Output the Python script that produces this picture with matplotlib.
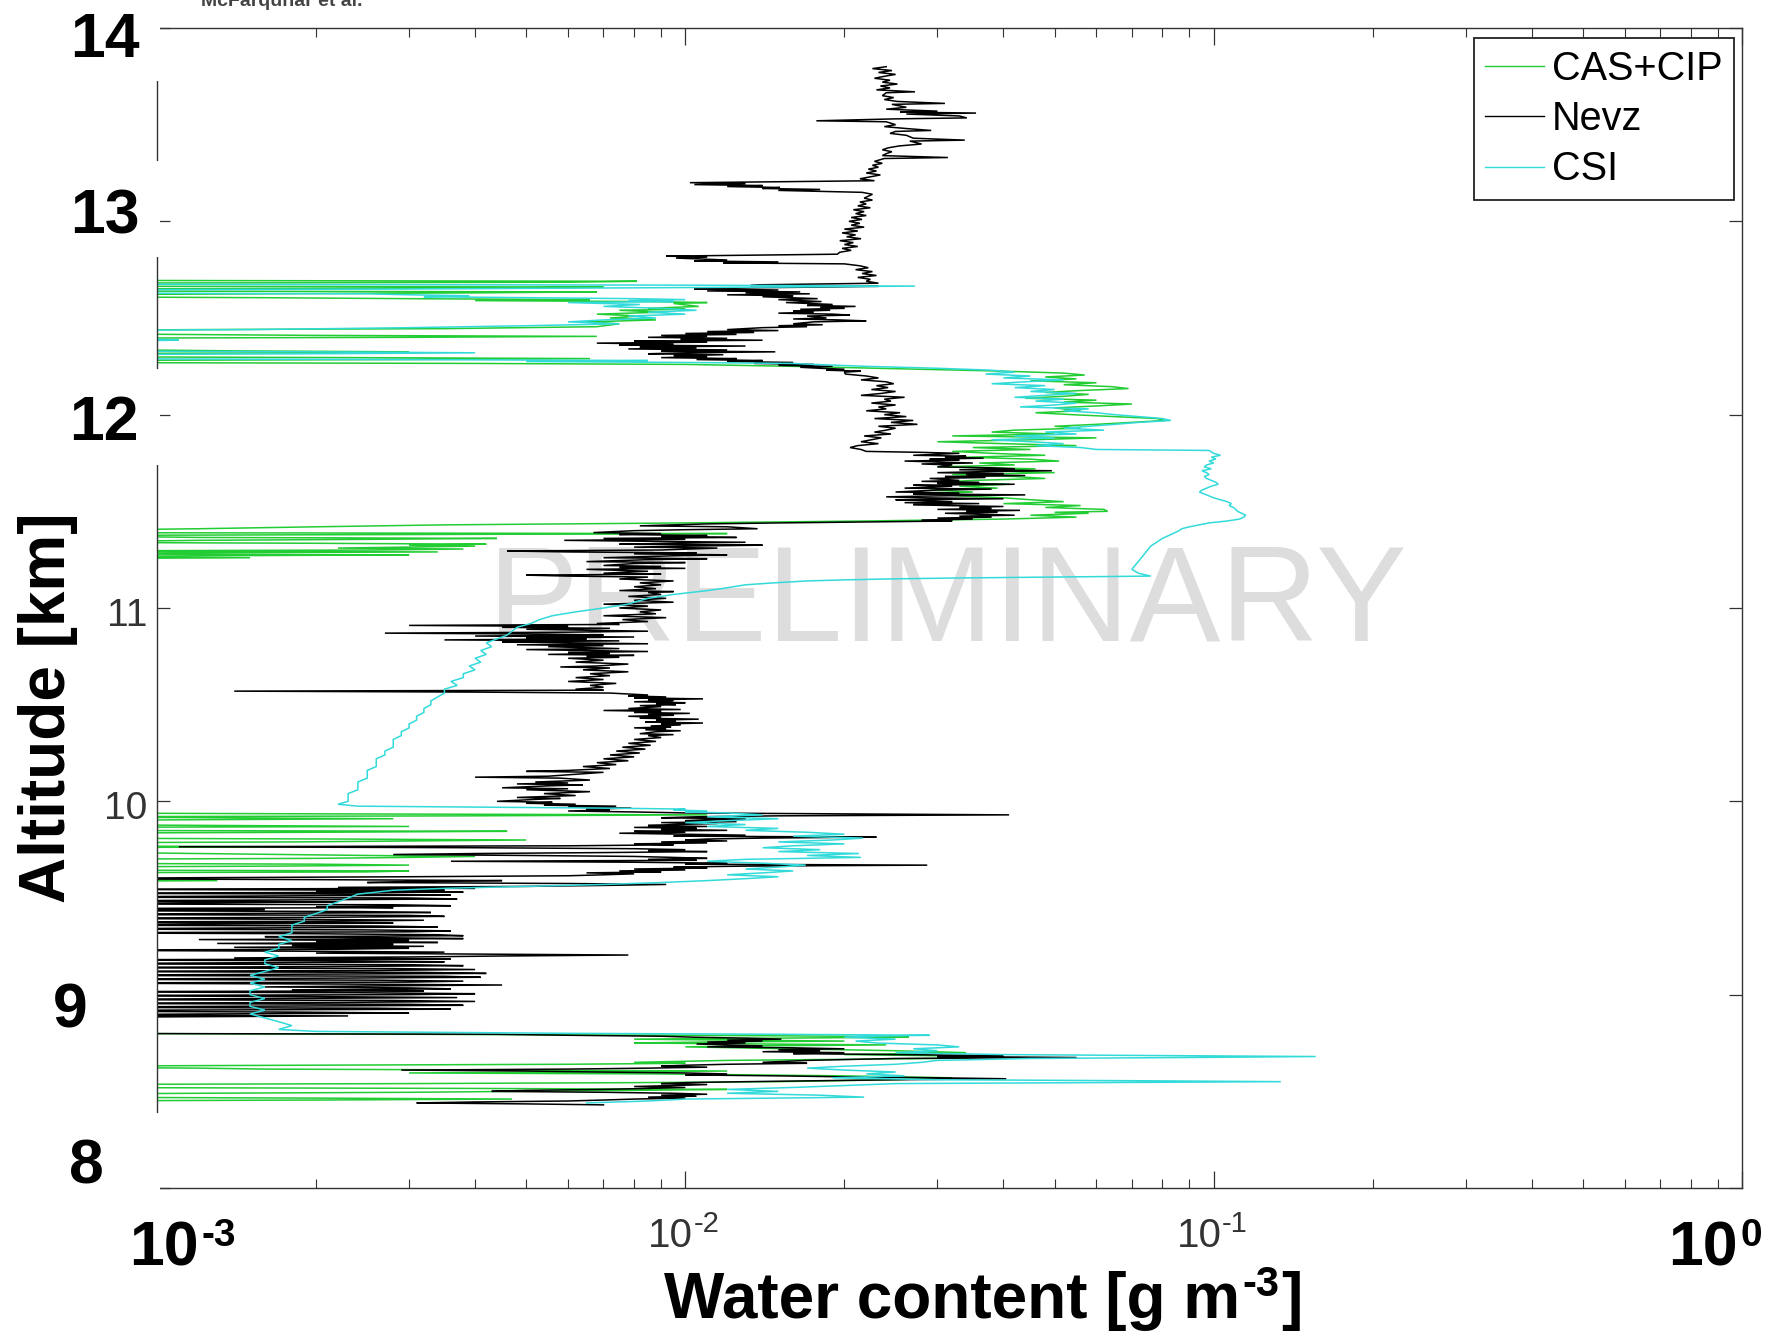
import matplotlib
matplotlib.use("Agg")
import matplotlib.pyplot as plt
from matplotlib.patches import Rectangle
from matplotlib.transforms import blended_transform_factory, ScaledTranslation

W, H, DPI = 1769, 1335, 100

# ---------------------------------------------------------------------------
# Vertical profiles: (altitude [km], water content [g m-3]).
# Values below 1e-3 sit left of the axis and are clipped away.
# ---------------------------------------------------------------------------
cas_cip = [
    (12.72, 0.0006), (12.695, 0.0006), (12.69, 0.0081), (12.685, 0.0060), (12.68, 0.0006),
    (12.665, 0.0006), (12.66, 0.0070), (12.655, 0.0045), (12.65, 0.0006), (12.64, 0.0006),
    (12.635, 0.0068), (12.63, 0.0040), (12.62, 0.0006), (12.61, 0.0006), (12.605, 0.0016),
    (12.60, 0.0030), (12.595, 0.0066), (12.59, 0.0040), (12.585, 0.0085), (12.58, 0.0110),
    (12.575, 0.0095), (12.56, 0.0106), (12.55, 0.0085), (12.545, 0.0100), (12.54, 0.0075),
    (12.53, 0.0090), (12.52, 0.0068), (12.51, 0.0082), (12.50, 0.0072), (12.49, 0.0088),
    (12.48, 0.0065), (12.47, 0.0075), (12.455, 0.0068), (12.445, 0.0035), (12.44, 0.0012),
    (12.435, 0.0006), (12.42, 0.0006), (12.41, 0.0020), (12.405, 0.0068), (12.40, 0.0030),
    (12.395, 0.0006), (12.34, 0.0006), (12.33, 0.0014), (12.325, 0.0030), (12.32, 0.0018),
    (12.315, 0.0006), (12.30, 0.0006), (12.295, 0.0024), (12.29, 0.0066), (12.285, 0.0030),
    (12.28, 0.0006), (12.27, 0.0006), (12.265, 0.0040), (12.26, 0.0100), (12.25, 0.0160),
    (12.245, 0.0192), (12.235, 0.0280), (12.225, 0.0400), (12.215, 0.0520), (12.205, 0.0570),
    (12.195, 0.0480), (12.185, 0.0550), (12.175, 0.0450), (12.165, 0.0600), (12.155, 0.0520),
    (12.145, 0.0640), (12.135, 0.0690), (12.125, 0.0560), (12.115, 0.0480), (12.105, 0.0580),
    (12.095, 0.0520), (12.085, 0.0440), (12.075, 0.0600), (12.065, 0.0520), (12.055, 0.0700),
    (12.045, 0.0600), (12.035, 0.0500), (12.02, 0.0560), (12.01, 0.0460), (12.00, 0.0540),
    (11.99, 0.0650), (11.98, 0.0780), (11.97, 0.0810), (11.96, 0.0700), (11.95, 0.0600),
    (11.94, 0.0500), (11.93, 0.0560), (11.92, 0.0420), (11.91, 0.0380), (11.90, 0.0500),
    (11.89, 0.0320), (11.88, 0.0600), (11.87, 0.0450), (11.86, 0.0300), (11.85, 0.0400),
    (11.84, 0.0550), (11.83, 0.0350), (11.82, 0.0450), (11.81, 0.0320), (11.80, 0.0380),
    (11.79, 0.0480), (11.78, 0.0340), (11.77, 0.0450), (11.76, 0.0510), (11.75, 0.0360),
    (11.74, 0.0420), (11.73, 0.0300), (11.72, 0.0460), (11.71, 0.0380), (11.70, 0.0500),
    (11.69, 0.0320), (11.68, 0.0420), (11.67, 0.0480), (11.66, 0.0350), (11.65, 0.0300),
    (11.64, 0.0410), (11.63, 0.0330), (11.62, 0.0390), (11.61, 0.0290), (11.60, 0.0350),
    (11.59, 0.0300), (11.58, 0.0330), (11.57, 0.0400), (11.56, 0.0450), (11.55, 0.0520),
    (11.54, 0.0400), (11.53, 0.0560), (11.52, 0.0480), (11.51, 0.0620), (11.50, 0.0630),
    (11.495, 0.0500), (11.49, 0.0580), (11.48, 0.0450), (11.47, 0.0550), (11.46, 0.0400),
    (11.455, 0.0300), (11.45, 0.0220), (11.445, 0.0150), (11.44, 0.0100), (11.435, 0.0060),
    (11.43, 0.0035), (11.42, 0.0020), (11.41, 0.0012), (11.40, 0.0006), (11.39, 0.0006),
    (11.385, 0.0120), (11.38, 0.0030), (11.375, 0.0006), (11.365, 0.0012), (11.36, 0.0044),
    (11.355, 0.0025), (11.35, 0.0012), (11.34, 0.0006), (11.335, 0.0019), (11.33, 0.0042),
    (11.325, 0.0030), (11.32, 0.0040), (11.31, 0.0022), (11.305, 0.0038), (11.30, 0.0026),
    (11.295, 0.0006), (11.29, 0.0034), (11.285, 0.0010), (11.28, 0.0006), (11.275, 0.0030),
    (11.27, 0.0012), (11.265, 0.0006), (11.26, 0.0015), (11.255, 0.0006),
    (9.97, 0.0006), (9.94, 0.0006), (9.935, 0.0022), (9.93, 0.0110), (9.925, 0.0040),
    (9.92, 0.0006), (9.91, 0.0028), (9.905, 0.0012), (9.90, 0.0006), (9.88, 0.0006),
    (9.87, 0.0030), (9.865, 0.0006), (9.85, 0.0006), (9.845, 0.0046), (9.84, 0.0020),
    (9.835, 0.0006), (9.81, 0.0006), (9.805, 0.0022), (9.80, 0.0050), (9.795, 0.0030),
    (9.79, 0.0018), (9.785, 0.0006), (9.77, 0.0006), (9.765, 0.0020), (9.76, 0.0006),
    (9.74, 0.0006), (9.73, 0.0012), (9.72, 0.0025), (9.715, 0.0040), (9.71, 0.0030),
    (9.705, 0.0020), (9.70, 0.0006), (9.68, 0.0006), (9.675, 0.0020), (9.67, 0.0030),
    (9.665, 0.0017), (9.66, 0.0006), (9.645, 0.0006), (9.64, 0.0030), (9.635, 0.0025),
    (9.63, 0.0006), (9.60, 0.0006), (9.59, 0.0013), (9.585, 0.0006),
    (8.80, 0.0006), (8.795, 0.0030), (8.79, 0.0100), (8.785, 0.0200), (8.78, 0.0265),
    (8.775, 0.0150), (8.77, 0.0080), (8.765, 0.0120), (8.76, 0.0200), (8.755, 0.0110),
    (8.75, 0.0080), (8.745, 0.0140), (8.74, 0.0240), (8.735, 0.0130), (8.73, 0.0100),
    (8.72, 0.0160), (8.71, 0.0250), (8.70, 0.0340), (8.69, 0.0200), (8.68, 0.0400),
    (8.67, 0.0300), (8.66, 0.0120), (8.65, 0.0080), (8.645, 0.0100), (8.64, 0.0060),
    (8.635, 0.0020), (8.63, 0.0006), (8.625, 0.0006), (8.62, 0.0012), (8.615, 0.0016),
    (8.61, 0.0050), (8.605, 0.0120), (8.60, 0.0060), (8.595, 0.0030), (8.59, 0.0090),
    (8.58, 0.0200), (8.57, 0.0320), (8.56, 0.0250), (8.55, 0.0150), (8.545, 0.0080),
    (8.54, 0.0030), (8.535, 0.0006), (8.52, 0.0006), (8.515, 0.0040), (8.51, 0.0120),
    (8.505, 0.0080), (8.50, 0.0050), (8.495, 0.0030), (8.49, 0.0012), (8.485, 0.0006),
    (8.47, 0.0006), (8.465, 0.0020), (8.46, 0.0047), (8.455, 0.0020), (8.45, 0.0006),
]

nevz = [
    (13.80, 0.0240), (13.79, 0.0226), (13.78, 0.0246), (13.77, 0.0232), (13.76, 0.0250),
    (13.75, 0.0238), (13.74, 0.0228), (13.73, 0.0244), (13.72, 0.0236), (13.71, 0.0252),
    (13.70, 0.0234), (13.69, 0.0244), (13.68, 0.0230), (13.67, 0.0272), (13.665, 0.0240),
    (13.65, 0.0236), (13.64, 0.0248), (13.63, 0.0238), (13.62, 0.0252), (13.61, 0.0310),
    (13.605, 0.0246), (13.59, 0.0262), (13.58, 0.0240), (13.57, 0.0300), (13.565, 0.0255),
    (13.56, 0.0355), (13.555, 0.0262), (13.545, 0.0330), (13.535, 0.0341), (13.53, 0.0250),
    (13.52, 0.0177), (13.515, 0.0240), (13.50, 0.0250), (13.49, 0.0238), (13.48, 0.0262),
    (13.47, 0.0292), (13.465, 0.0250), (13.455, 0.0244), (13.445, 0.0262), (13.43, 0.0270),
    (13.42, 0.0338), (13.415, 0.0266), (13.40, 0.0280), (13.39, 0.0254), (13.38, 0.0242),
    (13.37, 0.0236), (13.36, 0.0246), (13.35, 0.0240), (13.34, 0.0236), (13.33, 0.0314),
    (13.325, 0.0238), (13.31, 0.0228), (13.30, 0.0236), (13.29, 0.0226), (13.28, 0.0232),
    (13.27, 0.0222), (13.26, 0.0230), (13.25, 0.0220), (13.24, 0.0234), (13.23, 0.0224),
    (13.22, 0.0214), (13.21, 0.0228), (13.20, 0.0102), (13.195, 0.0130), (13.19, 0.0104),
    (13.185, 0.0140), (13.18, 0.0120), (13.175, 0.0151), (13.17, 0.0140), (13.165, 0.0180),
    (13.16, 0.0150), (13.15, 0.0216), (13.14, 0.0226), (13.13, 0.0222), (13.12, 0.0218),
    (13.11, 0.0226), (13.10, 0.0214), (13.09, 0.0220), (13.08, 0.0212), (13.07, 0.0224),
    (13.06, 0.0208), (13.05, 0.0218), (13.04, 0.0210), (13.03, 0.0220), (13.02, 0.0206),
    (13.01, 0.0216), (13.00, 0.0204), (12.99, 0.0214), (12.98, 0.0206), (12.97, 0.0218),
    (12.96, 0.0200), (12.95, 0.0212), (12.94, 0.0198), (12.93, 0.0210), (12.92, 0.0202),
    (12.91, 0.0215), (12.90, 0.0196), (12.89, 0.0208), (12.88, 0.0200), (12.87, 0.0212),
    (12.86, 0.0198), (12.85, 0.0206), (12.84, 0.0196), (12.83, 0.0194), (12.82, 0.0092),
    (12.815, 0.0110), (12.81, 0.0096), (12.80, 0.0120), (12.795, 0.0104), (12.79, 0.0150),
    (12.785, 0.0118), (12.78, 0.0200), (12.77, 0.0214), (12.76, 0.0222), (12.75, 0.0210),
    (12.74, 0.0226), (12.73, 0.0216), (12.72, 0.0230), (12.71, 0.0212), (12.70, 0.0224),
    (12.69, 0.0220), (12.68, 0.0232), (12.672, 0.0140), (12.668, 0.0133), (12.664, 0.0232),
    (12.66, 0.0180), (12.655, 0.0120), (12.65, 0.0104), (12.645, 0.0150), (12.64, 0.0110),
    (12.635, 0.0165), (12.63, 0.0130), (12.625, 0.0172), (12.62, 0.0120), (12.615, 0.0160),
    (12.61, 0.0140), (12.60, 0.0178), (12.595, 0.0150), (12.59, 0.0165), (12.585, 0.0181),
    (12.58, 0.0155), (12.57, 0.0190), (12.565, 0.0170), (12.56, 0.0210), (12.555, 0.0180),
    (12.55, 0.0200), (12.545, 0.0165), (12.54, 0.0188), (12.535, 0.0160), (12.53, 0.0175),
    (12.525, 0.0150), (12.52, 0.0190), (12.515, 0.0205), (12.51, 0.0170), (12.50, 0.0185),
    (12.495, 0.0160), (12.49, 0.0195), (12.485, 0.0220), (12.48, 0.0175), (12.47, 0.0160),
    (12.465, 0.0182), (12.46, 0.0150), (12.455, 0.0170), (12.45, 0.0140), (12.44, 0.0120),
    (12.435, 0.0150), (12.43, 0.0110), (12.425, 0.0135), (12.42, 0.0100), (12.415, 0.0125),
    (12.41, 0.0090), (12.405, 0.0110), (12.40, 0.0085), (12.395, 0.0120), (12.39, 0.0098),
    (12.385, 0.0140), (12.38, 0.0080), (12.375, 0.0110), (12.37, 0.0068), (12.365, 0.0095),
    (12.36, 0.0075), (12.355, 0.0130), (12.35, 0.0082), (12.345, 0.0105), (12.34, 0.0078),
    (12.335, 0.0120), (12.33, 0.0090), (12.325, 0.0148), (12.32, 0.0100), (12.315, 0.0085),
    (12.31, 0.0118), (12.305, 0.0095), (12.30, 0.0110), (12.295, 0.0090), (12.29, 0.0125),
    (12.285, 0.0105), (12.28, 0.0140), (12.275, 0.0120), (12.27, 0.0160), (12.265, 0.0135),
    (12.26, 0.0175), (12.255, 0.0150), (12.25, 0.0190), (12.245, 0.0165), (12.24, 0.0180),
    (12.235, 0.0200), (12.23, 0.0185), (12.225, 0.0215), (12.22, 0.0200), (12.21, 0.0201),
    (12.20, 0.0220), (12.19, 0.0232), (12.18, 0.0215), (12.17, 0.0240), (12.16, 0.0248),
    (12.15, 0.0230), (12.14, 0.0242), (12.13, 0.0225), (12.12, 0.0250), (12.11, 0.0235),
    (12.10, 0.0215), (12.09, 0.0260), (12.08, 0.0238), (12.07, 0.0245), (12.06, 0.0225),
    (12.05, 0.0250), (12.04, 0.0232), (12.03, 0.0240), (12.02, 0.0220), (12.01, 0.0255),
    (12.00, 0.0238), (11.99, 0.0262), (11.98, 0.0228), (11.97, 0.0270), (11.96, 0.0245),
    (11.95, 0.0275), (11.94, 0.0232), (11.93, 0.0250), (11.92, 0.0240), (11.91, 0.0228),
    (11.90, 0.0245), (11.89, 0.0218), (11.88, 0.0235), (11.87, 0.0225), (11.86, 0.0215),
    (11.85, 0.0232), (11.84, 0.0212), (11.83, 0.0205), (11.82, 0.0215), (11.81, 0.0220),
    (11.805, 0.0280), (11.80, 0.0330), (11.795, 0.0300), (11.79, 0.0270), (11.785, 0.0340),
    (11.78, 0.0310), (11.775, 0.0367), (11.77, 0.0290), (11.765, 0.0330), (11.76, 0.0260),
    (11.755, 0.0300), (11.75, 0.0350), (11.745, 0.0280), (11.74, 0.0320), (11.73, 0.0300),
    (11.725, 0.0380), (11.72, 0.0420), (11.715, 0.0330), (11.71, 0.0494), (11.705, 0.0360),
    (11.70, 0.0300), (11.695, 0.0400), (11.69, 0.0340), (11.685, 0.0440), (11.68, 0.0310),
    (11.675, 0.0370), (11.67, 0.0290), (11.66, 0.0330), (11.655, 0.0280), (11.65, 0.0360),
    (11.645, 0.0300), (11.64, 0.0420), (11.635, 0.0270), (11.63, 0.0320), (11.62, 0.0260),
    (11.615, 0.0380), (11.61, 0.0300), (11.60, 0.0250), (11.595, 0.0330), (11.59, 0.0270),
    (11.585, 0.0440), (11.58, 0.0300), (11.575, 0.0240), (11.57, 0.0280), (11.565, 0.0400),
    (11.56, 0.0250), (11.555, 0.0290), (11.55, 0.0320), (11.545, 0.0260), (11.54, 0.0360),
    (11.535, 0.0270), (11.53, 0.0310), (11.525, 0.0400), (11.52, 0.0330), (11.515, 0.0380),
    (11.51, 0.0300), (11.505, 0.0430), (11.50, 0.0340), (11.495, 0.0390), (11.49, 0.0310),
    (11.485, 0.0360), (11.48, 0.0420), (11.475, 0.0330), (11.47, 0.0380), (11.465, 0.0300),
    (11.46, 0.0350), (11.455, 0.0280), (11.45, 0.0320), (11.445, 0.0220), (11.44, 0.0150),
    (11.435, 0.0110), (11.43, 0.0095), (11.425, 0.0082), (11.42, 0.0120), (11.41, 0.0137),
    (11.405, 0.0100), (11.40, 0.0080), (11.39, 0.0067), (11.385, 0.0090), (11.38, 0.0075),
    (11.375, 0.0110), (11.37, 0.0090), (11.365, 0.0125), (11.36, 0.0070), (11.355, 0.0100),
    (11.35, 0.0059), (11.345, 0.0085), (11.34, 0.0130), (11.335, 0.0095), (11.33, 0.0075),
    (11.325, 0.0140), (11.32, 0.0100), (11.315, 0.0080), (11.31, 0.0115), (11.30, 0.0090),
    (11.295, 0.0046), (11.29, 0.0060), (11.285, 0.0105), (11.28, 0.0080), (11.275, 0.0120),
    (11.27, 0.0095), (11.26, 0.0070), (11.255, 0.0110), (11.25, 0.0085), (11.24, 0.0065),
    (11.235, 0.0100), (11.23, 0.0080), (11.22, 0.0070), (11.215, 0.0090), (11.21, 0.0075),
    (11.205, 0.0100), (11.20, 0.0065), (11.19, 0.0085), (11.18, 0.0070), (11.175, 0.0090),
    (11.17, 0.0050), (11.165, 0.0060), (11.16, 0.0085), (11.15, 0.0075), (11.14, 0.0095),
    (11.13, 0.0082), (11.12, 0.0090), (11.11, 0.0080), (11.10, 0.0088), (11.09, 0.0075),
    (11.085, 0.0095), (11.08, 0.0085), (11.07, 0.0090), (11.06, 0.0078), (11.05, 0.0092),
    (11.04, 0.0080), (11.03, 0.0095), (11.02, 0.0070), (11.01, 0.0085), (11.00, 0.0075),
    (10.99, 0.0090), (10.98, 0.0082), (10.97, 0.0088), (10.96, 0.0070), (10.95, 0.0092),
    (10.94, 0.0076), (10.93, 0.0085), (10.92, 0.0068), (10.915, 0.0075), (10.91, 0.0030),
    (10.905, 0.0060), (10.90, 0.0045), (10.895, 0.0072), (10.89, 0.0050), (10.885, 0.0065),
    (10.88, 0.0085), (10.875, 0.0060), (10.87, 0.0027), (10.865, 0.0055), (10.86, 0.0070),
    (10.855, 0.0040), (10.85, 0.0080), (10.845, 0.0050), (10.84, 0.0065), (10.835, 0.0035),
    (10.83, 0.0075), (10.825, 0.0045), (10.82, 0.0060), (10.815, 0.0085), (10.81, 0.0048),
    (10.805, 0.0070), (10.80, 0.0055), (10.79, 0.0075), (10.785, 0.0050), (10.78, 0.0065),
    (10.775, 0.0085), (10.77, 0.0060), (10.765, 0.0072), (10.76, 0.0055), (10.755, 0.0080),
    (10.75, 0.0065), (10.745, 0.0075), (10.74, 0.0060), (10.73, 0.0070), (10.72, 0.0062),
    (10.71, 0.0078), (10.70, 0.0068), (10.695, 0.0058), (10.69, 0.0072), (10.68, 0.0064),
    (10.67, 0.0078), (10.66, 0.0066), (10.65, 0.0072), (10.64, 0.0062), (10.63, 0.0070),
    (10.62, 0.0060), (10.61, 0.0074), (10.60, 0.0066), (10.59, 0.0070), (10.58, 0.0062),
    (10.575, 0.0070), (10.57, 0.0014), (10.565, 0.0040), (10.56, 0.0072), (10.55, 0.0085),
    (10.545, 0.0078), (10.54, 0.0092), (10.535, 0.0080), (10.53, 0.0108), (10.525, 0.0085),
    (10.52, 0.0095), (10.515, 0.0080), (10.51, 0.0100), (10.505, 0.0088), (10.50, 0.0096),
    (10.495, 0.0082), (10.49, 0.0090), (10.48, 0.0078), (10.475, 0.0098), (10.47, 0.0070),
    (10.465, 0.0090), (10.46, 0.0080), (10.455, 0.0102), (10.45, 0.0085), (10.445, 0.0095),
    (10.44, 0.0078), (10.435, 0.0090), (10.43, 0.0082), (10.425, 0.0106), (10.42, 0.0088),
    (10.415, 0.0096), (10.41, 0.0084), (10.405, 0.0108), (10.40, 0.0090), (10.395, 0.0098),
    (10.39, 0.0086), (10.385, 0.0094), (10.38, 0.0080), (10.375, 0.0092), (10.37, 0.0084),
    (10.365, 0.0098), (10.36, 0.0088), (10.35, 0.0082), (10.345, 0.0095), (10.34, 0.0085),
    (10.33, 0.0090), (10.32, 0.0080), (10.31, 0.0088), (10.30, 0.0078), (10.29, 0.0086),
    (10.28, 0.0076), (10.27, 0.0084), (10.26, 0.0074), (10.25, 0.0082), (10.24, 0.0072),
    (10.23, 0.0080), (10.22, 0.0070), (10.21, 0.0078), (10.20, 0.0068), (10.19, 0.0074),
    (10.18, 0.0064), (10.17, 0.0072), (10.16, 0.0060), (10.155, 0.0050), (10.15, 0.0070),
    (10.14, 0.0062), (10.13, 0.0055), (10.125, 0.0040), (10.12, 0.0058), (10.11, 0.0066),
    (10.10, 0.0052), (10.095, 0.0060), (10.09, 0.0048), (10.085, 0.0064), (10.08, 0.0055),
    (10.07, 0.0045), (10.065, 0.0060), (10.06, 0.0050), (10.05, 0.0066), (10.04, 0.0054),
    (10.03, 0.0062), (10.02, 0.0048), (10.015, 0.0058), (10.01, 0.0052), (10.00, 0.0044),
    (9.995, 0.0056), (9.99, 0.0050), (9.985, 0.0062), (9.98, 0.0054), (9.975, 0.0074),
    (9.97, 0.0060), (9.965, 0.0079), (9.96, 0.0065), (9.955, 0.0072), (9.95, 0.0060),
    (9.945, 0.0080), (9.94, 0.0100), (9.935, 0.0200), (9.93, 0.0410), (9.925, 0.0150),
    (9.92, 0.0105), (9.915, 0.0090), (9.91, 0.0130), (9.905, 0.0110), (9.90, 0.0100),
    (9.895, 0.0125), (9.89, 0.0090), (9.885, 0.0115), (9.88, 0.0095), (9.875, 0.0085),
    (9.87, 0.0110), (9.865, 0.0080), (9.86, 0.0105), (9.855, 0.0090), (9.85, 0.0120),
    (9.845, 0.0080), (9.84, 0.0100), (9.835, 0.0075), (9.83, 0.0100), (9.825, 0.0130),
    (9.82, 0.0095), (9.815, 0.0230), (9.81, 0.0140), (9.805, 0.0110), (9.80, 0.0100),
    (9.795, 0.0120), (9.79, 0.0090), (9.785, 0.0110), (9.78, 0.0080), (9.775, 0.0095),
    (9.77, 0.0060), (9.765, 0.0011), (9.76, 0.0040), (9.755, 0.0080), (9.75, 0.0100),
    (9.745, 0.0085), (9.74, 0.0110), (9.735, 0.0070), (9.73, 0.0040), (9.725, 0.0028),
    (9.72, 0.0050), (9.715, 0.0080), (9.71, 0.0095), (9.705, 0.0110), (9.70, 0.0085),
    (9.695, 0.0105), (9.69, 0.0036), (9.685, 0.0080), (9.68, 0.0120), (9.675, 0.0100),
    (9.67, 0.0287), (9.665, 0.0130), (9.66, 0.0095), (9.655, 0.0110), (9.65, 0.0080),
    (9.645, 0.0100), (9.64, 0.0075), (9.635, 0.0090), (9.63, 0.0065), (9.625, 0.0080),
    (9.62, 0.0070), (9.615, 0.0060), (9.61, 0.0030), (9.605, 0.0012), (9.60, 0.0006),
    (9.595, 0.0020), (9.59, 0.0045), (9.585, 0.0030), (9.58, 0.0025), (9.575, 0.0060),
    (9.57, 0.0092), (9.565, 0.0070), (9.56, 0.0050), (9.555, 0.0022), (9.55, 0.0040),
    (9.545, 0.0006), (9.54, 0.0035), (9.535, 0.0020), (9.53, 0.0038), (9.525, 0.0006),
    (9.52, 0.0025), (9.515, 0.0036), (9.51, 0.0015), (9.505, 0.0006), (9.50, 0.0030),
    (9.495, 0.0037), (9.49, 0.0018), (9.485, 0.0006), (9.48, 0.0022), (9.475, 0.0012),
    (9.47, 0.0006), (9.465, 0.0028), (9.46, 0.0036), (9.455, 0.0020), (9.45, 0.0028),
    (9.445, 0.0006), (9.44, 0.0016), (9.435, 0.0006), (9.43, 0.0024), (9.425, 0.0033),
    (9.42, 0.0014), (9.415, 0.0006), (9.41, 0.0030), (9.405, 0.0035), (9.40, 0.0020),
    (9.395, 0.0006), (9.39, 0.0018), (9.385, 0.0032), (9.38, 0.0022), (9.375, 0.0006),
    (9.37, 0.0028), (9.365, 0.0012), (9.36, 0.0006), (9.355, 0.0026), (9.35, 0.0034),
    (9.345, 0.0015), (9.34, 0.0006), (9.335, 0.0025), (9.33, 0.0036), (9.325, 0.0030),
    (9.32, 0.0006), (9.315, 0.0020), (9.31, 0.0034), (9.305, 0.0038), (9.30, 0.0016),
    (9.295, 0.0026), (9.29, 0.0038), (9.285, 0.0012), (9.28, 0.0030), (9.275, 0.0020),
    (9.27, 0.0034), (9.265, 0.0013), (9.26, 0.0028), (9.255, 0.0018), (9.25, 0.0032),
    (9.245, 0.0014), (9.24, 0.0030), (9.235, 0.0022), (9.23, 0.0006), (9.225, 0.0018),
    (9.22, 0.0035), (9.215, 0.0020), (9.21, 0.0040), (9.205, 0.0078), (9.20, 0.0045),
    (9.195, 0.0030), (9.19, 0.0014), (9.185, 0.0036), (9.18, 0.0006), (9.175, 0.0024),
    (9.17, 0.0035), (9.165, 0.0015), (9.16, 0.0006), (9.155, 0.0030), (9.15, 0.0038),
    (9.145, 0.0020), (9.14, 0.0006), (9.135, 0.0028), (9.13, 0.0040), (9.125, 0.0025),
    (9.12, 0.0006), (9.115, 0.0032), (9.11, 0.0042), (9.105, 0.0015), (9.10, 0.0006),
    (9.095, 0.0035), (9.09, 0.0041), (9.085, 0.0020), (9.08, 0.0006), (9.075, 0.0026),
    (9.07, 0.0038), (9.065, 0.0030), (9.06, 0.0006), (9.055, 0.0022), (9.05, 0.0045),
    (9.045, 0.0025), (9.04, 0.0016), (9.035, 0.0030), (9.03, 0.0036), (9.025, 0.0018),
    (9.02, 0.0032), (9.015, 0.0006), (9.01, 0.0024), (9.005, 0.0040), (9.00, 0.0030),
    (8.995, 0.0006), (8.99, 0.0020), (8.985, 0.0037), (8.98, 0.0016), (8.975, 0.0006),
    (8.97, 0.0028), (8.965, 0.0040), (8.96, 0.0022), (8.955, 0.0006), (8.95, 0.0030),
    (8.945, 0.0038), (8.94, 0.0014), (8.935, 0.0006), (8.93, 0.0026), (8.925, 0.0036),
    (8.92, 0.0010), (8.915, 0.0006), (8.91, 0.0018), (8.905, 0.0030), (8.90, 0.0012),
    (8.895, 0.0006), (8.89, 0.0023), (8.885, 0.0010), (8.88, 0.0006), (8.80, 0.0006),
    (8.795, 0.0044), (8.79, 0.0060), (8.785, 0.0090), (8.78, 0.0104), (8.775, 0.0130),
    (8.77, 0.0152), (8.765, 0.0120), (8.76, 0.0140), (8.755, 0.0110), (8.75, 0.0130),
    (8.745, 0.0105), (8.74, 0.0120), (8.735, 0.0140), (8.73, 0.0110), (8.725, 0.0160),
    (8.72, 0.0200), (8.715, 0.0150), (8.71, 0.0180), (8.705, 0.0140), (8.70, 0.0200),
    (8.695, 0.0160), (8.69, 0.0260), (8.685, 0.0400), (8.68, 0.0300), (8.675, 0.0550),
    (8.67, 0.0250), (8.66, 0.0170), (8.65, 0.0140), (8.645, 0.0170), (8.64, 0.0120),
    (8.635, 0.0100), (8.63, 0.0090), (8.625, 0.0110), (8.62, 0.0085), (8.615, 0.0060),
    (8.61, 0.0029), (8.605, 0.0050), (8.60, 0.0068), (8.595, 0.0100), (8.59, 0.0120),
    (8.585, 0.0100), (8.58, 0.0150), (8.575, 0.0200), (8.57, 0.0300), (8.565, 0.0405),
    (8.56, 0.0250), (8.555, 0.0180), (8.55, 0.0130), (8.545, 0.0100), (8.54, 0.0090),
    (8.535, 0.0110), (8.53, 0.0095), (8.525, 0.0080), (8.52, 0.0100), (8.515, 0.0085),
    (8.51, 0.0070), (8.505, 0.0050), (8.50, 0.0043), (8.495, 0.0070), (8.49, 0.0095),
    (8.485, 0.0110), (8.48, 0.0090), (8.475, 0.0105), (8.47, 0.0085), (8.465, 0.0100),
    (8.46, 0.0080), (8.455, 0.0070), (8.45, 0.0060), (8.445, 0.0040), (8.44, 0.0031),
    (8.435, 0.0050), (8.43, 0.0070),
]

csi = [
    (12.70, 0.0006), (12.675, 0.0006), (12.67, 0.0100), (12.665, 0.0272), (12.66, 0.0150),
    (12.655, 0.0070), (12.65, 0.0030), (12.645, 0.0006), (12.63, 0.0006), (12.625, 0.0025),
    (12.62, 0.0030), (12.615, 0.0039), (12.61, 0.0032), (12.605, 0.0050), (12.60, 0.0080),
    (12.595, 0.0100), (12.59, 0.0078), (12.585, 0.0095), (12.58, 0.0060), (12.57, 0.0082),
    (12.56, 0.0070), (12.55, 0.0090), (12.54, 0.0105), (12.53, 0.0085), (12.52, 0.0100),
    (12.51, 0.0078), (12.50, 0.0088), (12.49, 0.0070), (12.48, 0.0060), (12.47, 0.0075),
    (12.46, 0.0050), (12.45, 0.0030), (12.44, 0.0015), (12.435, 0.0006), (12.40, 0.0006),
    (12.39, 0.0010), (12.385, 0.0011), (12.38, 0.0006), (12.33, 0.0006), (12.325, 0.0020),
    (12.32, 0.0040), (12.315, 0.0020), (12.31, 0.0006), (12.29, 0.0006), (12.285, 0.0030),
    (12.28, 0.0085), (12.275, 0.0050), (12.27, 0.0100), (12.265, 0.0160), (12.26, 0.0175),
    (12.25, 0.0220), (12.24, 0.0300), (12.23, 0.0380), (12.22, 0.0420), (12.21, 0.0370),
    (12.20, 0.0450), (12.19, 0.0400), (12.18, 0.0520), (12.17, 0.0440), (12.16, 0.0380),
    (12.15, 0.0480), (12.14, 0.0420), (12.13, 0.0500), (12.12, 0.0450), (12.11, 0.0550),
    (12.10, 0.0480), (12.09, 0.0420), (12.08, 0.0520), (12.07, 0.0460), (12.06, 0.0550),
    (12.05, 0.0500), (12.04, 0.0430), (12.03, 0.0580), (12.02, 0.0520), (12.01, 0.0600),
    (12.00, 0.0650), (11.99, 0.0720), (11.98, 0.0800), (11.97, 0.0830), (11.96, 0.0720),
    (11.95, 0.0650), (11.94, 0.0580), (11.93, 0.0520), (11.92, 0.0620), (11.91, 0.0480),
    (11.90, 0.0550), (11.89, 0.0420), (11.88, 0.0500), (11.87, 0.0380), (11.86, 0.0450),
    (11.85, 0.0520), (11.84, 0.0460), (11.83, 0.0560), (11.82, 0.0600), (11.815, 0.0980),
    (11.80, 0.1000), (11.79, 0.1030), (11.78, 0.0990), (11.77, 0.1010), (11.76, 0.0980),
    (11.75, 0.1000), (11.74, 0.0970), (11.73, 0.0960), (11.72, 0.0990), (11.71, 0.0950),
    (11.70, 0.0970), (11.69, 0.0980), (11.68, 0.0960), (11.67, 0.0970), (11.66, 0.0990),
    (11.65, 0.1010), (11.64, 0.1020), (11.63, 0.0990), (11.62, 0.0970), (11.61, 0.0950),
    (11.60, 0.0940), (11.59, 0.0960), (11.58, 0.0980), (11.57, 0.1000), (11.56, 0.1030),
    (11.55, 0.1060), (11.54, 0.1080), (11.53, 0.1070), (11.52, 0.1090), (11.51, 0.1100),
    (11.50, 0.1110), (11.49, 0.1130), (11.48, 0.1150), (11.47, 0.1140), (11.46, 0.1120),
    (11.45, 0.1060), (11.44, 0.0980), (11.43, 0.0940), (11.42, 0.0900), (11.41, 0.0870),
    (11.40, 0.0860), (11.38, 0.0830), (11.36, 0.0800), (11.34, 0.0780), (11.32, 0.0760),
    (11.30, 0.0750), (11.28, 0.0740), (11.26, 0.0730), (11.24, 0.0720), (11.22, 0.0710),
    (11.20, 0.0700), (11.18, 0.0720), (11.165, 0.0760), (11.16, 0.0500), (11.155, 0.0320),
    (11.15, 0.0240), (11.145, 0.0197), (11.14, 0.0170), (11.13, 0.0147), (11.12, 0.0130),
    (11.10, 0.0117), (11.09, 0.0110), (11.07, 0.0095), (11.05, 0.0085), (11.03, 0.0080),
    (11.02, 0.0078), (11.00, 0.0070), (10.98, 0.0062), (10.96, 0.0056), (10.94, 0.0053),
    (10.92, 0.0051), (10.90, 0.0048), (10.88, 0.0047), (10.86, 0.0046), (10.84, 0.0044),
    (10.82, 0.0042), (10.80, 0.0043), (10.78, 0.0041), (10.76, 0.0042), (10.74, 0.0040),
    (10.72, 0.0041), (10.70, 0.0039), (10.68, 0.0040), (10.66, 0.0038), (10.64, 0.0038),
    (10.62, 0.0036), (10.60, 0.0037), (10.58, 0.0035), (10.56, 0.0035), (10.54, 0.0034),
    (10.52, 0.0033), (10.50, 0.0033), (10.48, 0.0032), (10.46, 0.0032), (10.44, 0.0031),
    (10.42, 0.0031), (10.40, 0.0030), (10.38, 0.0030), (10.36, 0.0029), (10.34, 0.0029),
    (10.32, 0.0028), (10.30, 0.0028), (10.28, 0.0028), (10.26, 0.0027), (10.24, 0.0027),
    (10.22, 0.0026), (10.20, 0.0026), (10.18, 0.0026), (10.16, 0.0025), (10.14, 0.0025),
    (10.12, 0.0025), (10.10, 0.0024), (10.08, 0.0024), (10.06, 0.0024), (10.04, 0.0023),
    (10.02, 0.0023), (10.00, 0.0023), (9.985, 0.0022), (9.975, 0.0024), (9.97, 0.0040),
    (9.965, 0.0070), (9.96, 0.0100), (9.955, 0.0095), (9.95, 0.0110), (9.945, 0.0100),
    (9.94, 0.0120), (9.93, 0.0140), (9.92, 0.0110), (9.91, 0.0150), (9.90, 0.0120),
    (9.89, 0.0100), (9.88, 0.0130), (9.87, 0.0110), (9.86, 0.0150), (9.85, 0.0130),
    (9.84, 0.0170), (9.83, 0.0200), (9.82, 0.0160), (9.81, 0.0217), (9.80, 0.0190),
    (9.79, 0.0150), (9.78, 0.0200), (9.77, 0.0160), (9.76, 0.0140), (9.75, 0.0180),
    (9.74, 0.0150), (9.73, 0.0213), (9.72, 0.0170), (9.71, 0.0215), (9.70, 0.0130),
    (9.69, 0.0110), (9.68, 0.0140), (9.67, 0.0169), (9.66, 0.0150), (9.65, 0.0130),
    (9.64, 0.0160), (9.63, 0.0140), (9.62, 0.0120), (9.61, 0.0150), (9.60, 0.0130),
    (9.59, 0.0110), (9.58, 0.0090), (9.57, 0.0070), (9.56, 0.0050), (9.55, 0.0035),
    (9.54, 0.0028), (9.52, 0.0024), (9.50, 0.0023), (9.48, 0.0022), (9.46, 0.0021),
    (9.44, 0.0021), (9.42, 0.0020), (9.40, 0.0019), (9.38, 0.0019), (9.36, 0.0018),
    (9.34, 0.0018), (9.32, 0.0018), (9.30, 0.0017), (9.28, 0.0018), (9.26, 0.0017),
    (9.24, 0.0017), (9.22, 0.0016), (9.20, 0.0017), (9.18, 0.0016), (9.16, 0.0016),
    (9.14, 0.0017), (9.12, 0.0016), (9.10, 0.0015), (9.08, 0.0016), (9.06, 0.0015),
    (9.04, 0.0016), (9.02, 0.0015), (9.00, 0.0015), (8.98, 0.0016), (8.96, 0.0015),
    (8.94, 0.0015), (8.92, 0.0016), (8.90, 0.0015), (8.88, 0.0016), (8.86, 0.0017),
    (8.84, 0.0018), (8.82, 0.0017), (8.81, 0.0020), (8.80, 0.0060), (8.795, 0.0150),
    (8.79, 0.0290), (8.785, 0.0220), (8.78, 0.0200), (8.77, 0.0250), (8.76, 0.0210),
    (8.75, 0.0230), (8.74, 0.0300), (8.73, 0.0330), (8.72, 0.0270), (8.71, 0.0300),
    (8.70, 0.0250), (8.69, 0.0400), (8.685, 0.0800), (8.68, 0.1560), (8.675, 0.0900),
    (8.67, 0.0450), (8.66, 0.0300), (8.65, 0.0280), (8.64, 0.0250), (8.63, 0.0200),
    (8.62, 0.0170), (8.61, 0.0200), (8.60, 0.0250), (8.59, 0.0220), (8.58, 0.0260),
    (8.57, 0.0190), (8.56, 0.0300), (8.555, 0.0700), (8.55, 0.1340), (8.545, 0.0600),
    (8.54, 0.0250), (8.53, 0.0200), (8.52, 0.0160), (8.51, 0.0120), (8.50, 0.0150),
    (8.49, 0.0120), (8.48, 0.0180), (8.47, 0.0218), (8.465, 0.0150), (8.46, 0.0100),
    (8.45, 0.0085), (8.44, 0.0065),
]

series_names = ["CAS+CIP", "Nevz", "CSI"]
series_data = [cas_cip, nevz, csi]
series_colors = ["#22cc33", "#000000", "#33dada"]

x_limits = (1e-3, 1.0)
y_limits = (8, 14)
x_major_ticks = [1e-3, 1e-2, 1e-1, 1.0]
y_ticks = [8, 9, 10, 11, 12, 13, 14]

# inner (thin) tick labels of the plot axis
inner_y_labels = [11, 10]
inner_x_labels = [(1e-2, "10", "-2"), (1e-1, "10", "-1")]

# large bold labels laid over the frame: (text, centre x px, baseline y px)
big_y_labels = [("14", 105, 57), ("13", 105, 233), ("12", 104, 440),
                ("9", 70, 1028), ("8", 86, 1183)]
big_x_labels = [("10", "-3", 199), ("10", "0", 1738)]

x_title = ("Water content [g m", "-3", "]")
y_title = "Altitude [km]"
watermark = "PRELIMINARY"
author_tag = "McFarquhar et al."

BOLD = ["Liberation Sans", "DejaVu Sans"]
NARROW = ["Liberation Sans Narrow", "Liberation Sans", "DejaVu Sans"]


def fx(px):
    return px / W


def fy(py):
    return 1.0 - py / H


fig = plt.figure(figsize=(W / DPI, H / DPI), dpi=DPI, facecolor="white")
ax = fig.add_axes([fx(157), fy(1188), (1742 - 157) / W, (1188 - 28) / H])

# watermark sits beneath the profiles
ax.text(fx(948), fy(640), watermark, ha="center", va="baseline", fontsize=98,
        family=["Liberation Sans", "DejaVu Sans"], color="#dddddd",
        transform=fig.transFigure, zorder=0.5)

for (name, data, color) in zip(series_names, series_data, series_colors):
    alt = [p[0] for p in data]
    wc = [p[1] for p in data]
    ax.plot(wc, alt, color=color, lw=1.1, label=name, solid_joinstyle="miter",
            zorder=2)

ax.set_xscale("log")
ax.set_xlim(*x_limits)
ax.set_ylim(*y_limits)
ax.set_xticks(x_major_ticks)
ax.set_yticks(y_ticks)

for sp in ax.spines.values():
    sp.set_color("#333333")
    sp.set_linewidth(1.0)

ax.tick_params(axis="x", which="major", direction="in", length=12.5, width=0.9,
               top=True, bottom=True, labelbottom=False, color="#333333")
ax.tick_params(axis="x", which="minor", direction="in", length=6.5, width=0.8,
               top=True, bottom=True, labelbottom=False, color="#333333")
ax.tick_params(axis="y", which="major", direction="in", length=9.5, width=0.9,
               left=True, right=True, labelleft=False, color="#333333")
ax.tick_params(axis="y", which="minor", left=False, right=False)

leg = ax.legend(loc="upper right", bbox_to_anchor=(fx(1734), fy(38)),
                bbox_transform=fig.transFigure, borderaxespad=0.0,
                frameon=True, fancybox=False, framealpha=1.0, edgecolor="#222222",
                prop={"family": ["Liberation Sans", "DejaVu Sans"], "size": 28.5},
                handlelength=1.49, handletextpad=0.18, borderpad=0.3,
                labelspacing=0.31)
leg.get_frame().set_linewidth(1.3)
for line in leg.get_lines():
    line.set_linewidth(1.0)

# white boxes behind the large labels hide parts of the frame
for (x0, y0, x1, y1) in [(0, 0, 160, 81), (0, 161, 160, 257),
                         (0, 369, 160, 465), (0, 1113, 160, H)]:
    fig.patches.append(Rectangle((fx(x0), fy(y1)), (x1 - x0) / W, (y1 - y0) / H,
                                 transform=fig.transFigure, facecolor="white",
                                 edgecolor="none", zorder=1))

# thin inner tick labels
ytr = blended_transform_factory(fig.transFigure, ax.transData)
for v in inner_y_labels:
    fig.text(fx(147), v, str(v), ha="right", va="baseline", fontsize=28,
             family=NARROW, color="#333333",
             transform=ytr + ScaledTranslation(0, -18 / DPI, fig.dpi_scale_trans))

xtr = blended_transform_factory(ax.transData, fig.transFigure)
for v, base, expo in inner_x_labels:
    off = ScaledTranslation(8 / DPI, 0, fig.dpi_scale_trans)
    fig.text(v, fy(1247), base, ha="right", va="baseline", fontsize=29,
             family=NARROW, color="#333333", transform=xtr + off)
    fig.text(v, fy(1232), expo, ha="left", va="baseline", fontsize=21,
             family=NARROW, color="#333333", transform=xtr + off)

# large bold labels
for txt, cx, base in big_y_labels:
    fig.text(fx(cx), fy(base), txt, ha="center", va="baseline", fontsize=45,
             family=BOLD, weight="bold", color="black", zorder=4)

for base_txt, expo, xr in big_x_labels:
    fig.text(fx(xr), fy(1266), base_txt, ha="right", va="baseline", fontsize=45,
             family=BOLD, weight="bold", color="black", zorder=4)
    fig.text(fx(xr + 2), fy(1246), expo, ha="left", va="baseline", fontsize=28,
             family=BOLD, weight="bold", color="black", zorder=4)

# x-axis title with a raised exponent, laid out piece by piece
renderer = fig.canvas.get_renderer()
pieces = [(x_title[0], 46, 0), (x_title[1], 30, 22), (x_title[2], 46, 0)]
widths = []
for s, size, rise in pieces:
    t = fig.text(0, 0, s, fontsize=size, family=BOLD, weight="bold")
    widths.append(t.get_window_extent(renderer=renderer).width)
    t.remove()
xpos = 981 - sum(widths) / 2
for (s, size, rise), w in zip(pieces, widths):
    fig.text(fx(xpos), fy(1318 - rise), s, ha="left", va="baseline", fontsize=size,
             family=BOLD, weight="bold", color="black", zorder=4)
    xpos += w + 2

fig.text(fx(48), fy(708), y_title, rotation=90, ha="center", va="center",
         fontsize=46, family=BOLD, weight="bold", color="black", zorder=4)

# header text, mostly beyond the top edge
fig.text(fx(201), fy(6), author_tag, ha="left", va="baseline", fontsize=14,
         family=BOLD, weight="bold", color="#444444")

fig.savefig("out.png", dpi=DPI, facecolor="white")
